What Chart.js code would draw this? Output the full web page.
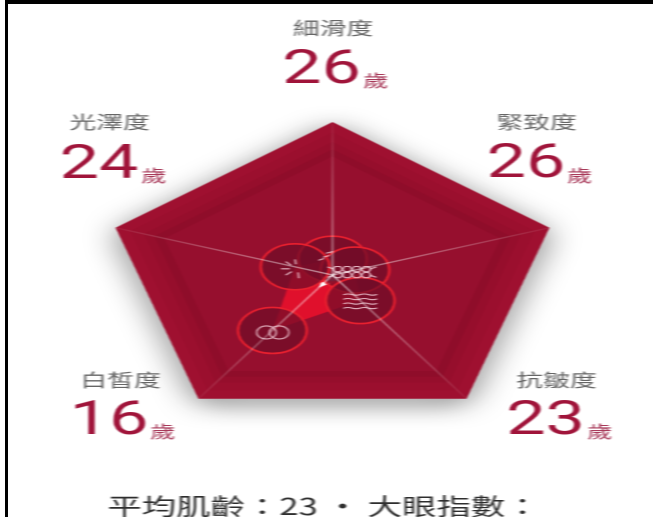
<!DOCTYPE html>
<html><head><meta charset="utf-8">
<script src="https://cdn.jsdelivr.net/npm/chart.js@4/dist/chart.umd.min.js"></script>
<style>
html,body{margin:0;padding:0;background:#fff;width:653px;height:517px;overflow:hidden}
#wrap{position:absolute;left:0;top:0;width:438px;height:517px;transform-origin:0 0;transform:scaleX(1.491);filter:blur(.6px)}
#c{display:block}
.bar{position:absolute;background:#000}
</style></head><body>
<div id="wrap"><canvas id="c" width="438" height="517"></canvas></div>
<div class="bar" style="left:5px;top:0;width:3px;height:517px"></div>
<div class="bar" style="left:5px;top:0;width:648px;height:4px"></div>
<script>
const categories = ['細滑度','緊致度','抗皺度','白皙度','光澤度'];
const ages = [26,26,23,16,24];
const shadowBand = [2,2,2,2,2];
const outerRim = [0,0,0,0,0];
const rimStep1 = [2,2,2,2,2];
const rimStep2 = [3.8,3.8,3.8,3.8,3.8];
const rimStep3 = [5.2,5.2,5.2,5.2,5.2];
const innerField = [6.5,6.5,6.5,6.5,6.5];
const highlight = [29,29,27.8,26,28];
const scaleMin = 0;
const scaleMax = 29;
const unit = '歲';
const footer = '平均肌齡：23 · 大眼指數：';

const ring = (data,color,order)=>({data,backgroundColor:color,borderColor:'transparent',borderWidth:0,fill:'start',pointRadius:0,order,clip:false});

const textLayout = [
 {name:[333,28], num:[321.5,83], unit:[363,87]},
 {name:[536.5,122], num:[526,177], unit:[567,182]},
 {name:[556.5,380], num:[545.5,434], unit:[587,438]},
 {name:[120.5,380], num:[109,434], unit:[150,438]},
 {name:[109.5,122], num:[99,178], unit:[141,182]}
];
const SX = 1.491;
const cjk = '"Noto Sans CJK TC","Noto Sans",sans-serif';

function drawIcon(ctx,i,x,y){
  ctx.save();
  ctx.strokeStyle='rgba(240,200,212,.88)';
  ctx.lineWidth=1.1;ctx.lineCap='round';
  ctx.beginPath();
  if(i===0){
    const seg=[[-9,1,-6,-.5],[-6,-2,-2.5,-3.5],[-4,-6,0,-7.5]];
    seg.forEach(s=>{ctx.moveTo(x+s[0],y+s[1]);ctx.lineTo(x+s[2],y+s[3]);});
  }else if(i===1){
    const ox=x-2,oy=y+2;
    for(let r=0;r<2;r++){for(let k=-2;k<2;k++){
      const cx=ox+k*6.4+3.2,cy=oy+(r?3:-3);
      ctx.moveTo(cx-3.2,cy);ctx.lineTo(cx-1.6,cy-2.6);ctx.lineTo(cx+1.6,cy-2.6);ctx.lineTo(cx+3.2,cy);ctx.lineTo(cx+1.6,cy+2.6);ctx.lineTo(cx-1.6,cy+2.6);ctx.closePath();
    }}
    ctx.moveTo(ox-16,oy-5);ctx.lineTo(ox-12,oy-3);ctx.moveTo(ox+16,oy-5);ctx.lineTo(ox+12,oy-3);
    ctx.moveTo(ox-16,oy+5);ctx.lineTo(ox-12,oy+3);ctx.moveTo(ox+16,oy+5);ctx.lineTo(ox+12,oy+3);
  }else if(i===2){
    [-7,-2.5,2,6.5].forEach(d=>{
      const yy=y+d+1;
      ctx.moveTo(x-11,yy);
      for(let k=0;k<4;k++){ctx.quadraticCurveTo(x-11+k*5.5+2.75,yy+(k%2?1.2:-1.2),x-11+(k+1)*5.5,yy);}
    });
  }else if(i===3){
    ctx.moveTo(x+2.5,y+2);ctx.arc(x-4,y+2,6.5,0,Math.PI*2);
    ctx.moveTo(x+11,y+2);ctx.arc(x+4.5,y+2,6.5,0,Math.PI*2);
  }else{
    const rays=[[-9,2,-4,2],[-6,-5,-3,-2],[-6,8,-2.5,5],[2,6,2.5,11],[0,-7,0.5,-3]];
    rays.forEach(s=>{ctx.moveTo(x+s[0],y+s[1]);ctx.lineTo(x+s[2],y+s[3]);});
  }
  ctx.stroke();ctx.restore();
}

const overlay={id:'overlay',
  beforeDatasetsDraw(chart){
    const c=chart.ctx;c.shadowColor='rgba(0,0,0,.9)';c.shadowBlur=50;c.shadowOffsetX=0;c.shadowOffsetY=10;
  },
  afterDatasetDraw(chart){
    const c=chart.ctx;c.shadowColor='transparent';c.shadowBlur=0;c.shadowOffsetY=0;
  },
  afterDatasetsDraw(chart){
    const meta=chart.getDatasetMeta(chart.data.datasets.length-1);
    meta.data.forEach((p,i)=>drawIcon(chart.ctx,i,p.x,p.y));
  },
  afterDraw(chart){
    const c=chart.ctx;c.save();c.textBaseline='alphabetic';
    categories.forEach((n,i)=>{
      const t=textLayout[i];
      c.font='400 18px '+cjk;c.fillStyle='#666666';c.textAlign='center';c.textBaseline='middle';
      c.fillText(n,t.name[0]/SX,t.name[1]);
      c.textBaseline='alphabetic';
      c.font='400 47px Roboto,sans-serif';c.fillStyle='#a0143a';
      c.fillText(String(ages[i]),t.num[0]/SX,t.num[1]);
      c.font='400 17px '+cjk;c.fillStyle='#a83a5a';c.textAlign='left';
      c.fillText(unit,t.unit[0]/SX,t.unit[1]);
    });
    c.font='400 23.1px '+cjk;c.fillStyle='#2e2e2e';c.textAlign='center';
    c.fillText(footer,323.5/SX,515);
    c.restore();
  }
};

new Chart(document.getElementById('c'),{
  type:'radar',
  data:{labels:categories,datasets:[
    {data:shadowBand,fill:false,borderColor:'#9f1030',borderWidth:10,pointRadius:0,order:9,clip:false},
    ring(outerRim,'#9f1030',8),
    ring(rimStep1,'#9b0f2e',7),
    ring(rimStep2,'#960e2c',6),
    ring(rimStep3,'#8f0d2a',5),
    ring(innerField,'#960f2e',4),
    ring(ages,'#e0102c',3),
    ring(highlight,'#ffffff',2),
    {data:ages,showLine:false,fill:false,pointRadius:23,pointHoverRadius:23,pointBackgroundColor:'rgba(112,12,40,.72)',pointBorderColor:'#e8202f',pointBorderWidth:1.6,order:1,clip:false}
  ]},
  options:{
    responsive:false,devicePixelRatio:2,animation:false,
    layout:{padding:{left:9,top:122,bottom:89,right:0}},
    plugins:{legend:{display:false},tooltip:{enabled:false}},
    elements:{line:{tension:0}},
    scales:{r:{
      min:scaleMin,max:scaleMax,reverse:true,
      ticks:{display:false},
      pointLabels:{display:false},
      grid:{display:false,z:1},
      angleLines:{display:true,lineWidth:1.3,color(ctx){
        const s=ctx.chart.scales.r,g=ctx.chart.ctx.createRadialGradient(s.xCenter,s.yCenter,0,s.xCenter,s.yCenter,s.drawingArea);
        g.addColorStop(0,'rgba(255,255,255,.55)');g.addColorStop(.72,'rgba(255,255,255,.2)');g.addColorStop(1,'rgba(255,255,255,.05)');
        return g;}}
    }}
  },
  plugins:[overlay]
});
</script></body></html>
